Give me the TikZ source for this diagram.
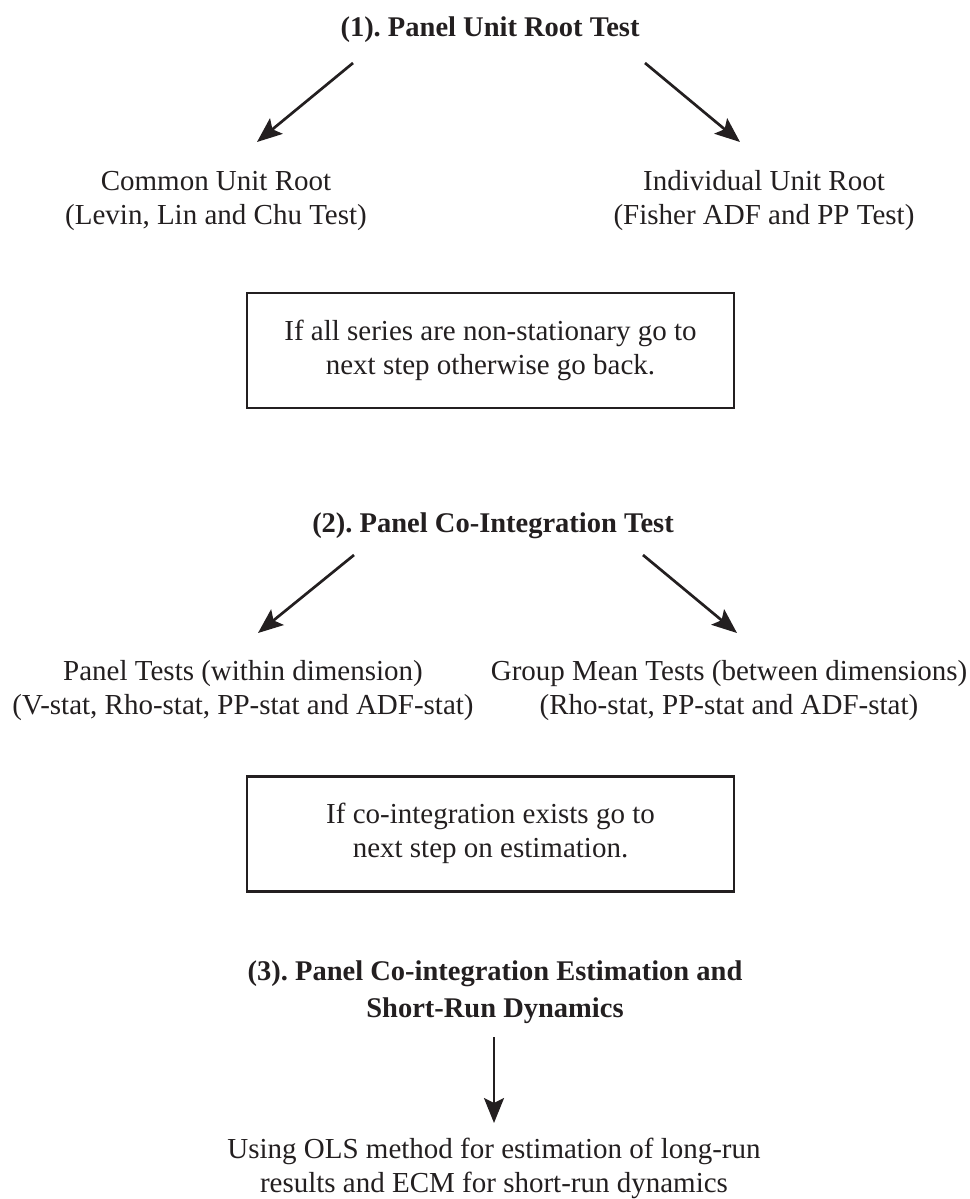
\documentclass[tikz,border=0pt]{standalone}
\usepackage{fontspec}
\setmainfont{Liberation Serif}
\usetikzlibrary{arrows.meta}
\definecolor{ink}{HTML}{231F20}
\frenchspacing
\newcommand{\twol}[2]{\begin{tabular}[t]{@{}c@{}}#1\\#2\end{tabular}}
\begin{document}
\begin{tikzpicture}[x=1pt,y=-1pt,
  every node/.style={text=ink, inner sep=0pt, font=\fontsize{29}{34}\selectfont},
  title/.style={font=\fontsize{28.5}{37}\selectfont\bfseries},
  lbl/.style={anchor=base},
  box/.style={draw=ink, line width=2.8pt, minimum width=487pt, minimum height=115pt},
  arr/.style={draw=ink, line width=2.7pt, -{Stealth[length=25pt,width=20pt,inset=5pt]}}]
\useasboundingbox (0,0) rectangle (969,1199);

% step 1
\node[lbl,title] (t1) at (490,37) {(1). Panel Unit Root Test};
\node[lbl] (cur) at (216,190) {\twol{Common Unit Root}{(Levin, Lin and Chu Test)}};
\node[lbl] (iur) at (764,190) {\twol{Individual Unit Root}{(Fisher ADF and PP Test)}};
\node[box] (b1) at (490.5,350.5) {\twol{If all series are non-stationary go to}{next step otherwise go back.}};

\coordinate (a1s) at (353,63);  \coordinate (a1e) at (257,142);
\coordinate (a2s) at (645,63);  \coordinate (a2e) at (740,142);
\draw[arr] (a1s) -- (a1e);
\draw[arr] (a2s) -- (a2e);

% step 2
\node[lbl,title] (t2) at (493,532) {(2). Panel Co-Integration Test};
\node[lbl] (pt) at (243,680) {\twol{Panel Tests (within dimension)}{(V-stat, Rho-stat, PP-stat and ADF-stat)}};
\node[lbl] (gm) at (729,680) {\twol{Group Mean Tests (between dimensions)}{(Rho-stat, PP-stat and ADF-stat)}};
\node[box] (b2) at (490.5,834) {\twol{If co-integration exists go to}{next step on estimation.}};

\coordinate (b1s) at (354,555); \coordinate (b1e) at (258,633);
\coordinate (b2s) at (643,555); \coordinate (b2e) at (737,633);
\draw[arr] (b1s) -- (b1e);
\draw[arr] (b2s) -- (b2e);

% step 3
\node[lbl,title] (t3) at (495,980) {\twol{(3). Panel Co-integration Estimation and}{Short-Run Dynamics}};
\node[lbl] (res) at (494,1158) {\twol{Using OLS method for estimation of long-run}{results and ECM for short-run dynamics}};
\coordinate (c1s) at (494,1037); \coordinate (c1e) at (494,1123);
\draw[arr] (c1s) -- (c1e);
\end{tikzpicture}
\end{document}
